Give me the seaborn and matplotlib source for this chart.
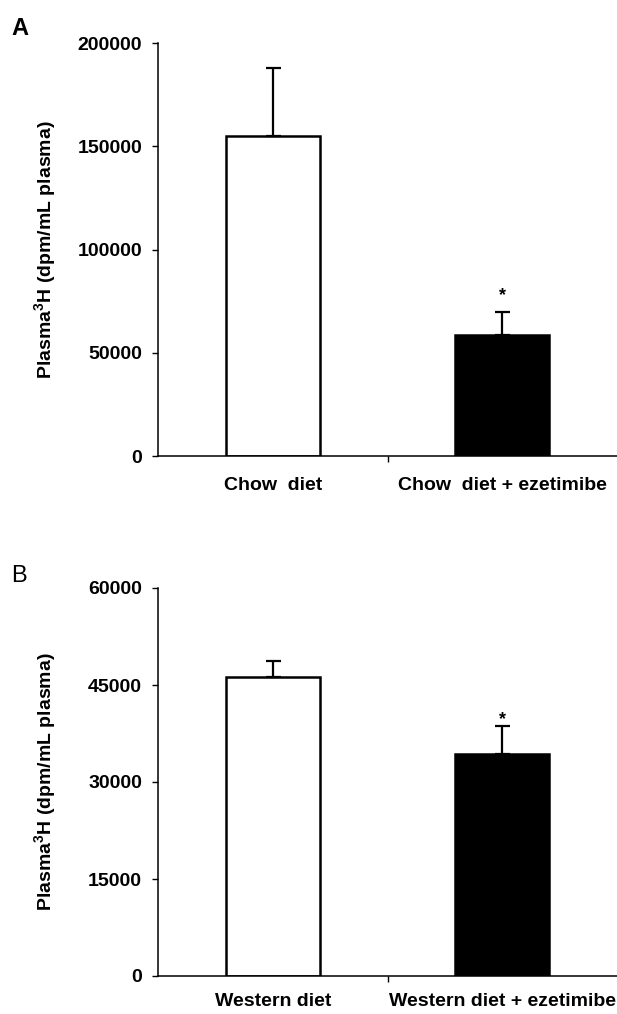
import matplotlib
matplotlib.use('Agg')
import seaborn as sns
import matplotlib.pyplot as plt

#### DATA ####

cats_a = ['Chow  diet', 'Chow  diet + ezetimibe']
means_a = [155000, 58500]
errs_a = [33000, 11200]
star_a = 75500

cats_b = ['Western diet', 'Western diet + ezetimibe']
means_b = [46300, 34300]
errs_b = [2400, 4400]
star_b = 39000

yticks_a = [0, 50000, 100000, 150000, 200000]
yticks_b = [0, 15000, 30000, 45000, 60000]

ylabel = 'Plasma$^{3}$H (dpm/mL plasma)'

#### STYLE ####

sns.set_style('ticks')
plt.rcParams['font.family'] = ['Liberation Sans', 'DejaVu Sans']
plt.rcParams['mathtext.fontset'] = 'custom'
plt.rcParams['mathtext.rm'] = 'Liberation Sans:bold'
for k in ['text.color', 'axes.labelcolor', 'xtick.color', 'ytick.color', 'axes.edgecolor']:
    plt.rcParams[k] = 'black'

W, H = 617, 1014
fig = plt.figure(figsize=(W / 100, H / 100), dpi=100)


def panel(rect_px, cats, means, errs, star, yticks, xpad):
    left, top, right, bottom = rect_px
    ax = fig.add_axes([left / W, 1 - bottom / H, (right - left) / W, (bottom - top) / H])
    sns.barplot(x=cats, y=means, hue=cats, palette=['white', 'black'], edgecolor='black',
                linewidth=1.8, width=0.41, errorbar=None, legend=False, ax=ax)
    ax.errorbar([0, 1], means, yerr=[[0, 0], errs], fmt='none', ecolor='black',
                elinewidth=1.6, capsize=5.4, capthick=1.6)
    ax.text(1, star, '*', ha='center', va='baseline', fontsize=13, fontweight='bold')
    ax.set_xlim(-0.5, 1.5)
    ax.set_ylim(yticks[0], yticks[-1])
    ax.set_yticks(yticks)
    ax.set_yticklabels([str(t) for t in yticks], fontsize=14, fontweight='bold')
    ax.set_xticks([0, 1])
    ax.set_xticklabels(cats, fontsize=14, fontweight='bold')
    ax.set_xticks([0.5], minor=True)
    ax.tick_params(axis='x', which='major', length=0, pad=xpad)
    ax.tick_params(axis='x', which='minor', length=4, width=1, direction='out')
    ax.tick_params(axis='y', length=4, width=1, direction='out', pad=7.5)
    ax.set_ylabel(ylabel, fontsize=14, fontweight='bold')
    ax.yaxis.set_label_coords(-0.215, 0.5)
    sns.despine(ax=ax)
    for s in ['left', 'bottom']:
        ax.spines[s].set_linewidth(1.1)
    return ax


ax_a = panel((158, 43, 617, 456), cats_a, means_a, errs_a, star_a, yticks_a, 15)
ax_b = panel((158, 588, 617, 976), cats_b, means_b, errs_b, star_b, yticks_b, 12)

fig.text(11 / W, 1 - 35 / H, 'A', fontsize=17, fontweight='bold', va='baseline')
fig.text(11 / W, 1 - 582 / H, 'B', fontsize=17, va='baseline')

fig.savefig('out.png', dpi=100)
